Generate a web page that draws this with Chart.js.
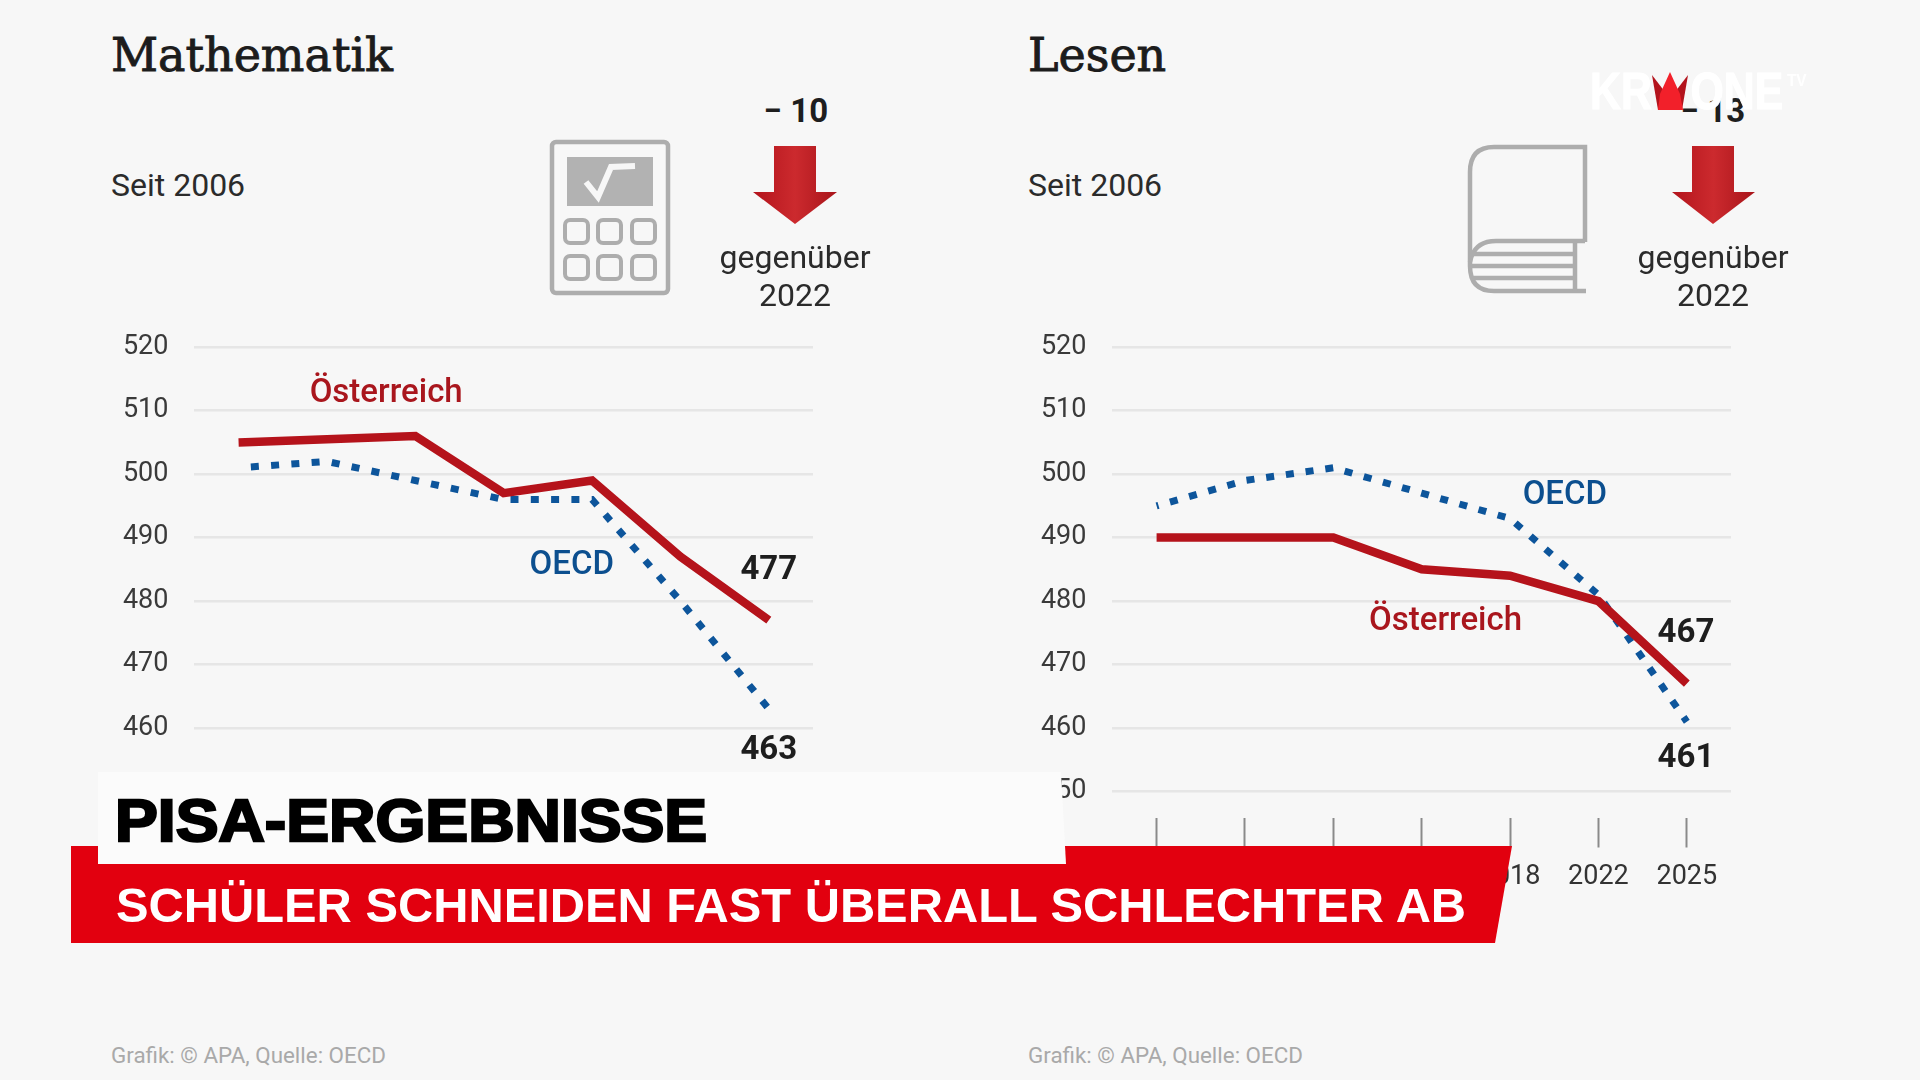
<!DOCTYPE html>
<html lang="de">
<head>
<meta charset="utf-8">
<title>PISA-Ergebnisse</title>
<script src="https://cdn.jsdelivr.net/npm/chart.js@4/dist/chart.umd.min.js"></script>
<style>
html,body{margin:0;padding:0;width:1920px;height:1080px;overflow:hidden;background:#f7f7f7;font-family:Roboto,sans-serif;}
#stage{position:relative;width:1920px;height:1080px;}
canvas.c{position:absolute;top:305px;}
.t{position:absolute;white-space:nowrap;line-height:1;}
.title{font-family:"DejaVu Serif",serif;font-weight:500;font-size:46px;color:#1c1c1c;top:32px;-webkit-text-stroke:.9px #1c1c1c;}
.sub{font-size:32px;color:#2b2b2b;top:169px;}
.delta{font-size:33px;font-weight:700;color:#1e1e1e;top:94px;transform:translateX(-50%);}
.ref{font-size:32px;color:#2b2b2b;text-align:center;line-height:38px;top:238px;transform:translateX(-50%);white-space:pre;}
.foot{font-size:22.4px;color:#a9a9a9;top:1044px;}
svg.deco{position:absolute;left:0;top:0;}
#h1{left:115px;top:791px;font-family:"Liberation Sans",sans-serif;font-weight:700;font-size:60px;color:#000;-webkit-text-stroke:2.4px #000;transform:scaleX(1.07);transform-origin:0 0;}
#h2{left:116px;top:881px;font-family:"Liberation Sans",sans-serif;font-weight:700;font-size:48.8px;color:#fff;}
#logo{left:1590px;top:66px;font-family:"Liberation Sans",sans-serif;font-weight:700;font-size:51px;color:#fff;-webkit-text-stroke:1px #fff;transform:scaleX(.84);transform-origin:0 0;}
#tv{left:1787px;top:72px;font-family:"Liberation Sans",sans-serif;font-weight:700;font-size:17px;color:#fff;transform:scaleX(.9);transform-origin:0 0;}
</style>
</head>
<body>
<div id="stage">
  <canvas class="c" id="mathChart" width="740" height="615" style="left:100px"></canvas>
  <canvas class="c" id="readChart" width="740" height="615" style="left:1018px"></canvas>

  <div class="t title" style="left:111px">Mathematik</div>
  <div class="t title" style="left:1028px">Lesen</div>
  <div class="t sub" style="left:111px">Seit 2006</div>
  <div class="t sub" style="left:1028px">Seit 2006</div>
  <div class="t delta" style="left:796px">− 10</div>
  <div class="t delta" style="left:1713px">− 13</div>
  <div class="t ref" style="left:795px">gegenüber
2022</div>
  <div class="t ref" style="left:1713px">gegenüber
2022</div>
  <div class="t foot" style="left:111px">Grafik: © APA, Quelle: OECD</div>
  <div class="t foot" style="left:1028px">Grafik: © APA, Quelle: OECD</div>

  <svg class="deco" width="1920" height="1080" viewBox="0 0 1920 1080">
    <defs>
      <linearGradient id="arrow" x1="0" x2="1" y1="0" y2="0">
        <stop offset="0" stop-color="#b3141c"/><stop offset=".5" stop-color="#cc2a2e"/><stop offset="1" stop-color="#a8141a"/>
      </linearGradient>
    </defs>
    <!-- calculator -->
    <g fill="none" stroke="#adadad" stroke-width="4.5">
      <rect x="552" y="142" width="116" height="151" rx="4"/>
      <g stroke-width="4">
        <rect x="565" y="220" width="23" height="23" rx="5"/><rect x="598" y="220" width="23" height="23" rx="5"/><rect x="632" y="220" width="23" height="23" rx="5"/>
        <rect x="565" y="256" width="23" height="23" rx="5"/><rect x="598" y="256" width="23" height="23" rx="5"/><rect x="632" y="256" width="23" height="23" rx="5"/>
      </g>
    </g>
    <rect x="567" y="157" width="86" height="49" fill="#b2b2b2"/>
    <polyline points="586,182 598,197 611,167 635,166" fill="none" stroke="#f7f7f7" stroke-width="6"/>
    <!-- book -->
    <g fill="none" stroke="#adadad" stroke-width="4.5">
      <path d="M1585,242 L1585,147 L1494,147 Q1470,147 1470,172 L1470,266 Q1470,291 1494,291 L1586,291"/>
      <path d="M1585,241 L1496,241 Q1474,241 1470,262"/>
      <path d="M1473,254 L1575,254 M1471,266 L1575,266 M1473,278 L1575,278 M1575,242 L1575,291"/>
    </g>
    <!-- arrows -->
    <polygon points="774,146 816,146 816,192 837,192 795,224 753,192 774,192" fill="url(#arrow)"/>
    <polygon points="1692,146 1734,146 1734,192 1755,192 1713,224 1672,192 1692,192" fill="url(#arrow)"/>
    <!-- banner -->
    <polygon points="71,846 1512,846 1495,943 71,943" fill="#e2000f"/>
    <polygon points="98,772 1061,772 1066,864 98,864" fill="#fbfbfb"/>
  </svg>

  <div class="t" id="h1">PISA-ERGEBNISSE</div>
  <div class="t" id="h2">SCHÜLER SCHNEIDEN FAST ÜBERALL SCHLECHTER AB</div>
  <div class="t" id="logo">KR<span style="display:inline-block;width:46px"></span>ONE</div>
  <div class="t" id="tv">TV</div>
  <svg class="deco" width="1920" height="1080" viewBox="0 0 1920 1080">
    <polygon points="1652,75 1665,92 1670,110 1658,110" fill="#b3131c"/>
    <polygon points="1688,75 1675,92 1670,110 1682,110" fill="#b3131c"/>
    <polygon points="1670,72 1680,94 1683,110 1658,110 1660,94" fill="#f2202a"/>
  </svg>
</div>

<script>
const years = ['2006','2009','2012','2015','2018','2022','2025'];
const yTickValues = [450,460,470,480,490,500,510,520];
const mathAustria = [505,505.5,506,497,499,487,477];
const mathOECD    = [501,502,499,496,496,480,463];
const readAustria = [490,490,490,485,484,480,467];
const readOECD    = [495,499,501,497,493,481,461];
const seriesNames = ['Österreich','OECD'];

const RED = '#b5131b', BLUE = '#0d559b', INK = '#1e1e1e';
const mathNotes = [
  {text:'Österreich', i:1.67, v:512.7, color:'#a9161d', weight:500},
  {text:'OECD',       i:3.77, v:485.6, color:'#0c4f8f', weight:500},
  {text:'477',        i:6.0,  v:484.7, color:INK, weight:700},
  {text:'463',        i:6.0,  v:456.4, color:INK, weight:700}
];
const readNotes = [
  {text:'Österreich', i:3.27, v:476.7, color:'#a9161d', weight:500},
  {text:'OECD',       i:4.62, v:496.6, color:'#0c4f8f', weight:500},
  {text:'467',        i:5.99, v:474.8, color:INK, weight:700},
  {text:'461',        i:5.99, v:455.1, color:INK, weight:700}
];

const notesPlugin = {
  id:'notes',
  afterDatasetsDraw(chart, args, opts){
    const {ctx, scales:{x,y}} = chart;
    ctx.save();
    ctx.textAlign='center'; ctx.textBaseline='middle';
    for(const n of opts.items){
      ctx.font = n.weight+' 33px Roboto';
      ctx.fillStyle = n.color;
      ctx.fillText(n.text, x.getPixelForValue(n.i), y.getPixelForValue(n.v));
    }
    ctx.restore();
  }
};

function build(id, austria, oecd, notes, dash, dashOffset, padRight){
  return new Chart(document.getElementById(id), {
    type:'line',
    plugins:[notesPlugin],
    data:{labels:years, datasets:[
      {label:seriesNames[1], data:oecd, borderColor:BLUE, borderWidth:7, borderDash:dash, borderDashOffset:dashOffset, pointRadius:0, tension:0, order:2},
      {label:seriesNames[0], data:austria, borderColor:RED, borderWidth:8.5, pointRadius:0, tension:0, order:1}
    ]},
    options:{
      responsive:false, animation:false, devicePixelRatio:1,
      layout:{padding:{top:12.5,right:padRight,left:0,bottom:0}},
      plugins:{legend:{display:false},tooltip:{enabled:false},title:{display:false},notes:{items:notes}},
      scales:{
        x:{
          offset:true,
          border:{display:false},
          grid:{drawOnChartArea:false,drawTicks:true,tickLength:30,tickColor:'#8a8a8a',tickWidth:2,offset:false},
          ticks:{maxRotation:0,autoSkip:false,padding:14,color:'#333',font:{family:'Roboto',size:27}},
          afterFit(s){s.height=102.5;}
        },
        y:{
          min:445.9,max:520,
          border:{display:false},
          grid:{color:'#e6e6e6',lineWidth:2.5,drawTicks:false},
          afterBuildTicks(s){s.ticks=yTickValues.map(v=>({value:v}));},
          ticks:{padding:26,color:'#3a3a3a',font:{family:'Roboto',size:27},callback:v=>String(v)},
          afterFit(s){s.width=94.4;}
        }
      }
    }
  });
}
function run(){
  build('mathChart', mathAustria, mathOECD, mathNotes, [8,12.3], 8, 27);
  build('readChart', readAustria, readOECD, readNotes, [8,11.9], 6, 27);
}
if(document.fonts&&document.fonts.load){
  Promise.all([document.fonts.load('500 33px Roboto'),document.fonts.load('700 33px Roboto'),document.fonts.load('27px Roboto')]).then(run,run);
}else run();
</script>
</body>
</html>
